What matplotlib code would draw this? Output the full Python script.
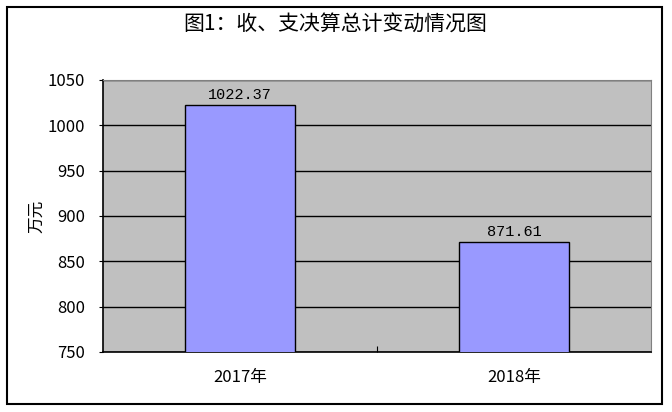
import matplotlib.pyplot as plt
from matplotlib.patches import Rectangle

plt.rcParams['font.family'] = ['Noto Sans CJK SC', 'DejaVu Sans']

# data
years = ['2017年', '2018年']
totals = [1022.37, 871.61]
yticks = [750, 800, 850, 900, 950, 1000, 1050]

fig = plt.figure(figsize=(6.72, 4.12), dpi=100)
ax = fig.add_axes([103 / 672, 1 - 352 / 412, 548 / 672, 272 / 412])

# outer chart border
fig.patches.append(Rectangle((7 / 672, 1 - 404 / 412), 655 / 672, 397 / 412,
                             transform=fig.transFigure, fill=False,
                             edgecolor='black', linewidth=1.5))

ax.set_facecolor('#C0C0C0')
ax.set_ylim(750, 1050)
ax.set_xlim(-0.5, 1.5)
ax.set_yticks(yticks)
ax.yaxis.grid(True, color='black', linewidth=1)
ax.set_axisbelow(True)

x = range(len(years))
bars = ax.bar(x, totals, width=0.405, color='#9999FF', edgecolor='black',
              linewidth=1, zorder=3)
for xi, v in zip(x, totals):
    ax.text(xi, v + 3, f'{v:.2f}', ha='center', va='bottom', fontsize=11,
            family=['Liberation Mono', 'DejaVu Sans'])

ax.set_xticks([0.5], minor=False)
ax.set_xticklabels([''])
ax.tick_params(axis='x', direction='in', length=4, color='black')
ax.tick_params(axis='y', direction='out', length=3, pad=10, labelsize=12)
for xi, lab in zip(x, years):
    ax.text(xi, -0.095, lab, transform=ax.get_xaxis_transform(),
            ha='center', va='center', fontsize=12)

for side in ['top', 'right']:
    ax.spines[side].set_color('#808080')
for side in ['left', 'bottom']:
    ax.spines[side].set_color('black')
    ax.spines[side].set_linewidth(1.2)

ax.set_ylabel('万元', fontsize=12)
ax.yaxis.set_label_coords(-0.105, 0.5)
fig.text(335 / 672, 1 - 25 / 412, '图1：收、支决算总计变动情况图',
         ha='center', va='center', fontsize=15)

fig.savefig('out.png', dpi=100)
